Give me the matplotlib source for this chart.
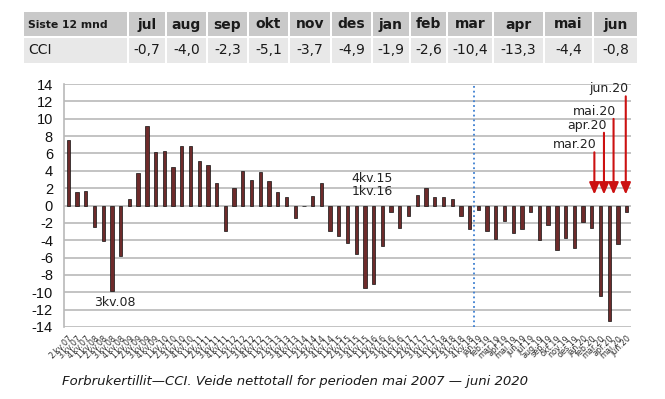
import numpy as np
import matplotlib.pyplot as plt
from matplotlib.patches import Rectangle

plt.rcParams['axes.unicode_minus'] = False

# tabell: siste 12 mnd
maaneder = ['jul', 'aug', 'sep', 'okt', 'nov', 'des', 'jan', 'feb', 'mar', 'apr', 'mai', 'jun']
cci_tabell = ['-0,7', '-4,0', '-2,3', '-5,1', '-3,7', '-4,9', '-1,9', '-2,6', '-10,4', '-13,3', '-4,4', '-0,8']

# kvartaler 2.kv.07 - 4.kv.18, deretter måneder jan.19 - jun.20
kvartaler = ['2.kv.07', '3.kv.07', '4.kv.07']
for aar in range(8, 19):
    for k in range(1, 5):
        kvartaler.append('%d.kv.%02d' % (k, aar))
mnd_navn = ['jan', 'feb', 'mar', 'apr', 'mai', 'jun', 'jul', 'aug', 'sep', 'okt', 'nov', 'des']
mnd_labels = [m + '.19' for m in mnd_navn] + [m + '.20' for m in mnd_navn[:6]]
kategorier = kvartaler + mnd_labels

cci_kv = [7.5, 1.5, 1.7, -2.5, -4.1, -9.9, -5.8, 0.8, 3.8, 9.15, 6.2, 6.3,
          4.4, 6.85, 6.8, 5.15, 4.7, 2.6, -2.9, 2.0, 4.0, 2.9, 3.85, 2.8,
          1.55, 0.95, -1.4, -0.1, 1.15, 2.6, -2.9, -3.5, -4.3, -5.6, -9.5, -9.1,
          -4.65, -0.75, -2.6, -1.25, 1.2, 2.05, 1.0, 1.0, 0.8, -1.2, -2.7]
cci_mnd = [-0.5, -2.9, -3.9, -1.75, -3.2, -2.7,
           -0.7, -4.0, -2.3, -5.1, -3.7, -4.9, -1.9, -2.6, -10.4, -13.3, -4.4, -0.8]
verdier = cci_kv + cci_mnd

# piler for de siste månedene
pil_tekst = ['mar.20', 'apr.20', 'mai.20', 'jun.20']
pil_x = [60.3, 61.4, 62.5, 63.9]
pil_topp = [6.45, 8.7, 10.3, 12.9]

W, H = 665, 399
fig = plt.figure(figsize=(W / 100, H / 100), dpi=100)

# bakgrunnsakse i piksler for tabell og bildetekst
bg = fig.add_axes([0, 0, 1, 1])
bg.set_xlim(0, W)
bg.set_ylim(H, 0)
bg.axis('off')

kanter = [23, 128, 166, 207, 248, 289, 331, 372, 410, 447, 493, 544, 593, 638]
for i in range(len(kanter) - 1):
    x0, x1 = kanter[i] + 1, kanter[i + 1] - 1
    bg.add_patch(Rectangle((x0, 12), x1 - x0, 24, color='#c9c9c9', lw=0))
    bg.add_patch(Rectangle((x0, 38), x1 - x0, 25, color='#e8e8e8', lw=0))
bg.text(28, 24.5, 'Siste 12 mnd', fontsize=7.8, fontweight='bold', va='center', ha='left', color='#1a1a1a')
bg.text(28, 50.5, 'CCI', fontsize=10, va='center', ha='left', color='#1a1a1a')
for i, m in enumerate(maaneder):
    xc = (kanter[i + 1] + kanter[i + 2]) / 2
    bg.text(xc, 24.5, m, fontsize=10, fontweight='bold', va='center', ha='center', color='#1a1a1a')
    bg.text(xc, 50.5, cci_tabell[i], fontsize=10, va='center', ha='center', color='#1a1a1a')

bg.text(62, 381, 'Forbrukertillit\u2014CCI. Veide nettotall for perioden mai 2007 \u2014 juni 2020',
        fontsize=9.5, style='italic', va='center', ha='left', color='#1a1a1a')

# selve stolpediagrammet
ax = fig.add_axes([64 / W, (H - 327) / H, (631 - 64) / W, (327 - 84) / H])
x = np.arange(len(kategorier))
ax.bar(x, verdier, width=0.38, color='#6e2b2b', edgecolor='#111111', linewidth=0.5, zorder=3)
ax.set_xlim(-0.5, len(kategorier) - 0.5)
ax.set_ylim(-14, 14)
ax.set_yticks(np.arange(-14, 15, 2))
ax.set_yticklabels([str(v) for v in range(-14, 15, 2)], fontfamily='Liberation Sans', fontsize=10.5, color='#111111')
ax.yaxis.grid(True, color='#b9b9b9', linewidth=1.2, zorder=0)
ax.set_xticks(x)
ax.set_xticklabels(kategorier, rotation=45, ha='right', rotation_mode='anchor', fontsize=5.8, color='#333333')
ax.tick_params(axis='both', length=0)
ax.tick_params(axis='y', pad=8)
ax.tick_params(axis='x', pad=5)
for s in ['top', 'right', 'bottom']:
    ax.spines[s].set_visible(False)
ax.spines['left'].set_color('#b9b9b9')
ax.spines['left'].set_linewidth(1.2)

# skille mellom kvartal og måned
ax.axvline(len(cci_kv) - 0.5, color='#3d7fd1', linestyle=':', linewidth=1.3, zorder=4)

# merknader
ax.text(5.35, -11.15, '3kv.08', fontsize=9, ha='center', va='center', color='#222222')
ax.text(34.8, 3.1, '4kv.15', fontsize=9, ha='center', va='center', color='#222222')
ax.text(34.8, 1.6, '1kv.16', fontsize=9, ha='center', va='center', color='#222222')

for t, px, py in zip(pil_tekst, pil_x, pil_topp):
    ax.annotate('', xy=(px, 0.95), xytext=(px, py),
                arrowprops=dict(arrowstyle='-|>,head_length=0.7,head_width=0.3', color='#cc1111', lw=1.5),
                zorder=5)
    ax.text(px + 0.3, py + 0.55, t, fontsize=9, ha='right', va='center', color='#222222')

fig.savefig('out.png', dpi=100)
